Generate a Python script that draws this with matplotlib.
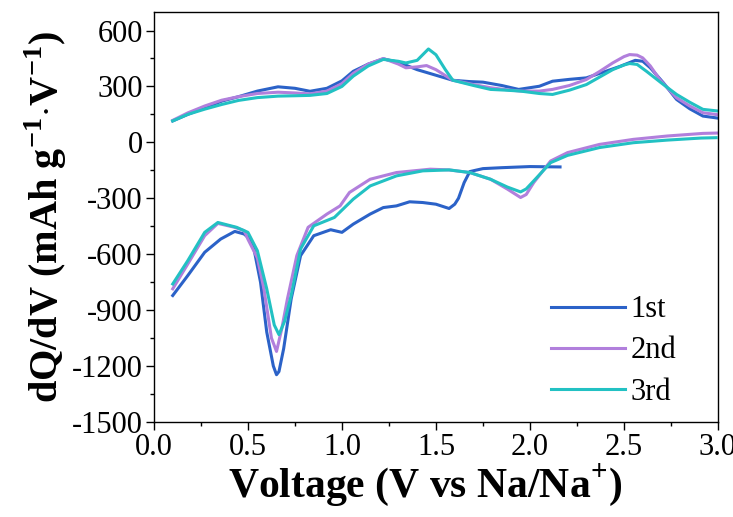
import numpy as np
import matplotlib
matplotlib.use('Agg')
import matplotlib.pyplot as plt
from matplotlib.ticker import MultipleLocator

plt.rcParams['font.family'] = ['Liberation Serif', 'DejaVu Serif']
plt.rcParams['mathtext.fontset'] = 'custom'
plt.rcParams['mathtext.rm'] = 'Liberation Serif'
plt.rcParams['mathtext.bf'] = 'Liberation Serif:bold'
plt.rcParams['axes.unicode_minus'] = False

# charge (upper) branches
v_up1 = [0.10, 0.18, 0.27, 0.36, 0.45, 0.55, 0.66, 0.75, 0.83, 0.92, 1.00, 1.06, 1.14, 1.22, 1.30, 1.40, 1.50, 1.59, 1.68, 1.75, 1.85, 1.94, 2.05, 2.12, 2.21, 2.30, 2.40, 2.48, 2.56, 2.60, 2.64, 2.71, 2.78, 2.85, 2.92, 3.00]
q_up1 = [115, 150, 185, 221, 245, 275, 298, 290, 274, 290, 330, 381, 420, 448, 430, 390, 360, 333, 326, 323, 305, 284, 301, 328, 338, 346, 380, 408, 440, 435, 400, 319, 230, 180, 141, 130]

v_up2 = [0.10, 0.18, 0.27, 0.36, 0.45, 0.55, 0.66, 0.75, 0.83, 0.92, 1.00, 1.06, 1.14, 1.22, 1.30, 1.34, 1.40, 1.45, 1.50, 1.59, 1.70, 1.79, 1.87, 1.95, 2.05, 2.12, 2.21, 2.30, 2.37, 2.44, 2.50, 2.53, 2.57, 2.60, 2.64, 2.69, 2.78, 2.85, 2.92, 3.00]
q_up2 = [118, 158, 195, 226, 245, 262, 269, 265, 260, 275, 315, 370, 420, 450, 420, 400, 405, 412, 390, 333, 310, 293, 283, 275, 275, 284, 305, 337, 380, 426, 460, 471, 468, 453, 410, 337, 239, 195, 159, 148]

v_up3 = [0.10, 0.18, 0.27, 0.36, 0.45, 0.55, 0.66, 0.75, 0.83, 0.92, 1.00, 1.06, 1.14, 1.22, 1.30, 1.34, 1.40, 1.46, 1.50, 1.55, 1.59, 1.70, 1.79, 1.87, 1.95, 2.05, 2.12, 2.21, 2.30, 2.37, 2.44, 2.50, 2.53, 2.57, 2.62, 2.71, 2.78, 2.85, 2.92, 3.00]
q_up3 = [115, 150, 178, 203, 225, 240, 248, 250, 252, 262, 300, 355, 410, 445, 435, 426, 440, 501, 470, 390, 333, 305, 284, 280, 275, 262, 257, 280, 310, 350, 390, 415, 423, 418, 381, 310, 257, 215, 177, 168]

# discharge (lower) branches
v_dn1 = [2.16, 2.00, 1.85, 1.75, 1.71, 1.68, 1.65, 1.62, 1.60, 1.57, 1.50, 1.43, 1.36, 1.29, 1.22, 1.15, 1.06, 1.00, 0.94, 0.85, 0.78, 0.73, 0.69, 0.665, 0.652, 0.635, 0.60, 0.567, 0.532, 0.50, 0.48, 0.43, 0.355, 0.27, 0.18, 0.10]
q_dn1 = [-132, -130, -136, -141, -150, -157, -216, -300, -332, -355, -332, -323, -319, -341, -350, -385, -439, -483, -469, -501, -608, -840, -1107, -1230, -1247, -1200, -1018, -751, -572, -510, -492, -478, -519, -590, -715, -822]

v_dn2 = [3.00, 2.92, 2.73, 2.55, 2.37, 2.20, 2.11, 2.02, 1.98, 1.95, 1.88, 1.79, 1.68, 1.57, 1.47, 1.29, 1.15, 1.04, 0.99, 0.92, 0.82, 0.76, 0.71, 0.68, 0.652, 0.625, 0.585, 0.55, 0.50, 0.48, 0.43, 0.34, 0.27, 0.18, 0.10]
q_dn2 = [50, 48, 34, 16, -11, -55, -100, -216, -280, -296, -251, -198, -162, -148, -144, -162, -198, -269, -341, -385, -456, -608, -840, -1000, -1122, -1050, -786, -620, -520, -474, -456, -435, -501, -653, -786]

v_dn3 = [2.99, 2.91, 2.73, 2.55, 2.37, 2.20, 2.11, 2.02, 1.98, 1.95, 1.88, 1.79, 1.68, 1.57, 1.43, 1.29, 1.15, 1.06, 0.96, 0.85, 0.78, 0.73, 0.695, 0.665, 0.64, 0.60, 0.55, 0.50, 0.44, 0.34, 0.27, 0.18, 0.10]
q_dn3 = [25, 23, 12, -2, -28, -70, -109, -207, -250, -266, -240, -198, -162, -148, -153, -180, -234, -305, -403, -448, -572, -822, -960, -1032, -980, -786, -581, -483, -456, -430, -483, -635, -760]

labels = ['1st', '2nd', '3rd']
colors = ['#2b62c8', '#b17fdc', '#22c1c3']

fig = plt.figure(figsize=(7.33, 5.17), dpi=100)
ax = fig.add_axes([0.210, 0.184, 0.7695, 0.793])

ups = [(v_up1, q_up1), (v_up2, q_up2), (v_up3, q_up3)]
dns = [(v_dn1, q_dn1), (v_dn2, q_dn2), (v_dn3, q_dn3)]
for (vu, qu), (vd, qd), lab, c in zip(ups, dns, labels, colors):
    ax.plot(vu, qu, color=c, lw=2.2, label=lab, solid_joinstyle='round')
    ax.plot(vd, qd, color=c, lw=2.2, solid_joinstyle='round')

ax.set_xlim(0, 3.0)
ax.set_ylim(-1500, 700)
ax.xaxis.set_major_locator(MultipleLocator(0.5))
ax.xaxis.set_minor_locator(MultipleLocator(0.25))
ax.yaxis.set_major_locator(MultipleLocator(300))
ax.yaxis.set_minor_locator(MultipleLocator(150))
ax.tick_params(which='both', direction='out', width=1, labelsize=22)
ax.tick_params(which='major', length=6, pad=2)
ax.tick_params(which='minor', length=3)
ax.xaxis.set_major_formatter(matplotlib.ticker.FormatStrFormatter('%.1f'))
for s in ax.spines.values():
    s.set_linewidth(1.0)

ax.set_xlabel('Voltage (V vs Na/Na$^{\\mathbf{+}}$)', fontsize=30, fontweight='bold')
ax.xaxis.set_label_coords(0.48, -0.1)
ax.set_ylabel('dQ/dV (mAh g$^{\\mathbf{-1}}$$\\cdot$V$^{\\mathbf{-1}}$)', fontsize=29, fontweight='bold', labelpad=2)

ax.legend(loc='lower right', bbox_to_anchor=(0.975, -0.03), frameon=False, fontsize=22,
          handlelength=2.4, handletextpad=0.2, labelspacing=0.4)

plt.savefig('out.png', dpi=100)
